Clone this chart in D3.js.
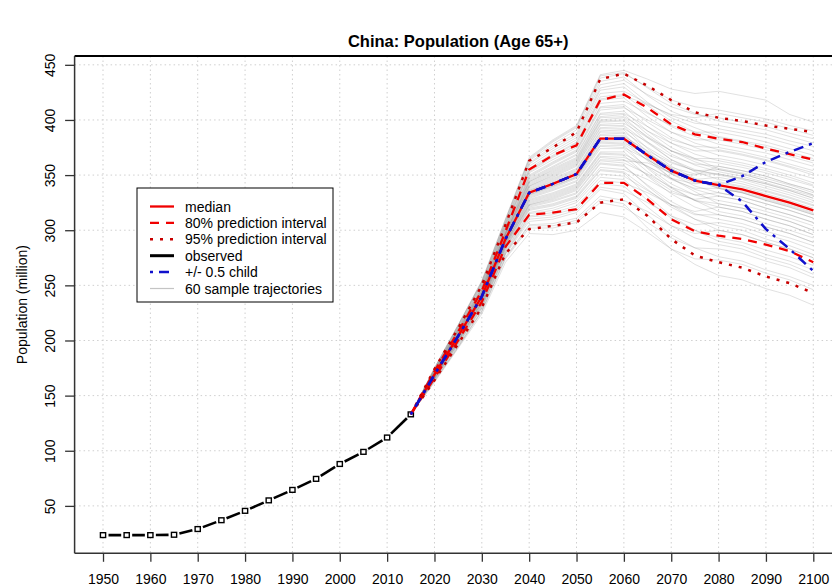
<!DOCTYPE html>
<html>
<head>
<meta charset="utf-8">
<script src="https://cdn.jsdelivr.net/npm/d3@7"></script>
<style>
  body { margin: 0; background: #fff; }
  svg { display: block; }
  text { font-family: "Liberation Sans", Arial, Helvetica, sans-serif; fill: #000; }
</style>
</head>
<body>
<svg id="chart" width="832" height="588"></svg>
<script>
// ---- observed estimates (million) ----
const obsYears = [1950, 1955, 1960, 1965, 1970, 1975, 1980, 1985, 1990, 1995, 2000, 2005, 2010, 2015];
const observed = [23.5, 23.5, 23.5, 23.8, 29, 37, 45.5, 55, 64.5, 74.5, 88, 99, 112, 133];

// ---- projections, 2015-2100 ----
const projYears = [2015, 2020, 2025, 2030, 2035, 2040, 2045, 2050, 2055, 2060, 2065, 2070, 2075, 2080, 2085, 2090, 2095, 2100];
const median  = [133, 169, 204, 240, 292, 334, 342, 351, 383, 383, 368, 354, 345, 341, 337, 331, 325, 318];
const pi80Up  = [133, 172, 208, 245, 299, 355, 368, 377, 418, 423, 411, 396, 387, 383, 380, 374, 369, 364];
const pi80Low = [133, 166, 200, 235, 285, 314, 316, 319, 343, 343, 328, 310, 299, 295, 292, 287, 281, 271];
const pi95Up  = [133, 174, 211, 250, 305, 363, 375, 389, 437, 442, 431, 418, 407, 402, 399, 395, 392, 389];
const pi95Low = [133, 164, 197, 230, 279, 301, 304, 307, 325, 328, 313, 292, 277, 271, 266, 258, 252, 243];
const childUp  = [133, 169, 204, 240, 292, 334, 342, 351, 383, 383, 368, 354, 345, 341, 349, 362, 371, 379];
const childLow = [133, 169, 204, 240, 292, 334, 342, 351, 383, 383, 368, 354, 345, 341, 326, 301, 283, 263];

// ---- 60 sample trajectories ----
const trajectories = [
  [133,162,193,224,271,297,296,300,316,312,298,283,274,273,269,261,255,246],
  [133,163,194,226,274,302,302,307,325,321,307,293,284,283,279,272,266,257],
  [133,164,195,227,276,305,306,311,331,327,317,304,297,300,296,289,283,275],
  [133,164,196,229,278,308,310,316,337,333,314,296,284,276,272,264,258,250],
  [133,165,197,230,279,310,312,318,339,336,325,313,305,307,303,296,290,282],
  [133,165,197,230,279,312,314,320,342,340,321,304,293,287,283,275,269,260],
  [133,165,198,231,280,313,316,322,345,343,334,323,317,321,317,310,304,296],
  [133,165,198,232,281,315,318,325,348,346,327,311,300,293,289,282,276,268],
  [133,166,199,232,282,316,320,327,351,349,336,323,314,314,310,303,297,289],
  [133,166,199,233,283,318,322,329,354,352,331,313,300,290,286,278,272,264],
  [133,166,200,234,284,320,324,331,357,355,346,334,328,331,327,320,314,307],
  [133,166,200,234,284,319,323,330,355,353,337,321,310,304,300,292,286,278],
  [133,167,200,234,285,321,326,333,360,358,341,326,315,310,306,299,293,286],
  [133,167,200,235,286,323,328,336,363,361,351,339,332,334,330,324,318,311],
  [133,167,200,235,286,322,327,334,361,359,340,323,310,300,296,289,283,275],
  [133,167,201,236,287,324,330,338,366,364,350,336,327,324,320,314,308,300],
  [133,168,202,237,288,326,332,340,369,368,349,333,321,314,310,303,297,289],
  [133,168,202,237,288,325,331,339,367,366,358,347,342,344,340,335,329,322],
  [133,168,202,237,288,328,334,342,371,371,353,338,327,321,317,310,304,296],
  [133,168,202,237,288,327,333,341,370,369,358,346,338,338,334,327,321,314],
  [133,168,203,238,289,329,336,344,374,374,357,342,332,327,323,317,311,304],
  [133,168,203,238,289,330,337,345,376,375,364,352,346,348,344,338,332,325],
  [133,168,203,239,290,331,338,347,377,377,356,339,327,317,313,306,300,293],
  [133,168,203,239,290,332,339,348,379,378,364,351,343,343,339,333,327,320],
  [133,169,204,239,291,333,340,349,381,381,363,347,337,331,327,320,314,307],
  [133,169,204,239,291,332,340,348,380,379,369,357,351,351,347,342,336,329],
  [133,169,204,240,292,334,342,351,383,383,366,351,340,334,330,324,318,311],
  [133,169,204,240,292,335,343,352,384,385,372,361,354,355,351,345,339,332],
  [133,169,205,241,293,336,344,353,386,386,370,356,346,338,334,328,322,315],
  [133,169,205,241,293,336,345,354,387,388,365,347,335,324,320,314,308,300],
  [133,170,205,241,294,337,346,355,389,389,375,362,354,351,347,342,336,329],
  [133,170,205,241,294,338,347,356,390,391,371,356,345,338,334,327,321,314],
  [133,170,206,242,295,339,348,358,392,392,380,367,360,358,354,349,342,336],
  [133,170,206,242,295,340,349,359,393,394,374,358,347,339,335,329,323,316],
  [133,170,206,243,296,340,350,360,395,395,379,364,355,350,346,340,334,327],
  [133,170,206,243,296,341,351,361,396,397,384,372,365,365,361,356,350,343],
  [133,171,207,244,297,342,352,362,398,399,380,364,353,346,342,336,330,323],
  [133,171,207,244,297,343,353,363,399,400,385,372,364,361,357,352,346,340],
  [133,171,207,244,297,344,354,364,400,402,384,369,359,353,349,343,337,331],
  [133,171,207,244,297,344,355,365,402,403,390,379,372,372,368,363,357,350],
  [133,171,208,245,298,345,356,366,403,405,387,372,362,355,351,345,339,332],
  [133,171,208,245,298,346,357,368,405,406,394,382,376,375,371,366,360,354],
  [133,171,208,246,299,347,358,369,406,408,390,375,365,356,352,347,341,334],
  [133,172,209,246,300,348,360,371,409,411,400,389,382,382,378,373,367,361],
  [133,172,209,246,300,349,361,372,411,412,394,379,369,363,359,354,348,341],
  [133,172,209,247,301,350,362,373,412,414,398,384,375,368,364,359,353,347],
  [133,172,210,248,302,352,364,375,415,417,406,395,389,389,385,380,374,368],
  [133,173,210,248,303,353,366,377,418,420,403,389,379,373,369,364,358,352],
  [133,173,211,249,304,355,368,380,421,423,407,394,385,378,374,370,364,358],
  [133,173,211,250,305,356,370,382,424,426,415,404,397,395,391,387,381,376],
  [133,173,212,251,306,358,372,384,427,430,413,399,389,384,380,375,369,363],
  [133,174,212,251,306,360,374,386,429,433,416,402,393,385,381,377,371,365],
  [133,174,213,252,307,361,376,388,432,436,423,412,405,402,398,394,388,383],
  [133,174,213,253,308,363,378,391,435,439,422,408,399,392,388,384,378,372],
  [133,175,214,253,309,364,380,393,438,442,430,418,412,409,405,401,395,390],
  [133,175,214,254,310,365,381,394,440,443,429,415,406,399,395,391,385,379],
  [133,175,214,254,310,366,382,395,441,445,437,428,424,426,422,418,405,398],
  [133,163,194,227,275,304,304,309,328,324,302,283,269,259,255,247,241,232],
  [133,173,210,248,303,354,367,379,419,422,414,405,402,406,402,398,392,386],
  [133,167,201,236,287,323,329,337,364,363,361,352,350,358,354,349,342,336]
];

// ---- axes and labels ----
const xTicks = [1950, 1960, 1970, 1980, 1990, 2000, 2010, 2020, 2030, 2040, 2050, 2060, 2070, 2080, 2090, 2100];
const yTicks = [50, 100, 150, 200, 250, 300, 350, 400, 450];
const xLimits = [1944, 2106];
const yLimits = [7, 458];
const titleText = "China: Population (Age 65+)";
const yTitle = "Population (million)";
const legendItems = [
  { label: "median", color: "#f00000", dash: null, width: 2.3 },
  { label: "80% prediction interval", color: "#f00000", dash: "9,7", width: 2.3 },
  { label: "95% prediction interval", color: "#c80000", dash: "3,7", width: 2.5 },
  { label: "observed", color: "#000000", dash: null, width: 3 },
  { label: "+/- 0.5 child", color: "#1010cc", dash: "3,6,10,6", width: 2.5 },
  { label: "60 sample trajectories", color: "#c4c4c4", dash: null, width: 1.2 }
];

const svg = d3.select("#chart");

// plot region
const box = { left: 74.6, right: 841.7, top: 56, bottom: 553.3 };
const x = d3.scaleLinear().domain(xLimits).range([box.left, box.right]);
const y = d3.scaleLinear().domain(yLimits).range([box.bottom, box.top]);

svg.append("defs").append("clipPath").attr("id", "plotClip")
  .append("rect")
  .attr("x", box.left).attr("y", box.top)
  .attr("width", box.right - box.left).attr("height", box.bottom - box.top);

// title, centred over the whole plot region
svg.append("text")
  .attr("x", (box.left + box.right) / 2)
  .attr("y", 47)
  .attr("text-anchor", "middle")
  .attr("font-size", "16.5px")
  .attr("font-weight", "bold")
  .text(titleText);

// grid
const grid = svg.append("g").attr("clip-path", "url(#plotClip)")
  .attr("stroke", "#cfcfcf").attr("stroke-width", 1).attr("stroke-dasharray", "1.5,3");
grid.selectAll("line.v").data(xTicks).join("line")
  .attr("x1", d => x(d)).attr("x2", d => x(d))
  .attr("y1", box.top).attr("y2", box.bottom);
grid.selectAll("line.h").data(yTicks).join("line")
  .attr("x1", box.left).attr("x2", box.right)
  .attr("y1", d => y(d)).attr("y2", d => y(d));

const plot = svg.append("g").attr("clip-path", "url(#plotClip)");

const projLine = d3.line()
  .x((d, i) => x(projYears[i]))
  .y(d => y(d));

// sample trajectories
plot.append("g")
  .attr("fill", "none")
  .attr("stroke", "#8c8c8c")
  .attr("stroke-opacity", 0.26)
  .attr("stroke-width", 1)
  .selectAll("path").data(trajectories).join("path")
  .attr("d", projLine);

// observed: points joined by line pieces that stop short of each point
const obsPts = obsYears.map((yr, i) => [x(yr), y(observed[i])]);
const gap = 5.5;
const segs = [];
for (let i = 0; i < obsPts.length - 1; i++) {
  const [x0, y0] = obsPts[i], [x1, y1] = obsPts[i + 1];
  const len = Math.hypot(x1 - x0, y1 - y0);
  if (len > 2 * gap) {
    const ux = (x1 - x0) / len, uy = (y1 - y0) / len;
    segs.push([x0 + ux * gap, y0 + uy * gap, x1 - ux * gap, y1 - uy * gap]);
  }
}
plot.append("g").attr("stroke", "#000").attr("stroke-width", 2.6)
  .selectAll("line").data(segs).join("line")
  .attr("x1", d => d[0]).attr("y1", d => d[1])
  .attr("x2", d => d[2]).attr("y2", d => d[3]);
plot.append("g").attr("fill", "#fff").attr("stroke", "#000").attr("stroke-width", 1.4)
  .selectAll("rect").data(obsPts).join("rect")
  .attr("x", d => d[0] - 2.6).attr("y", d => d[1] - 2.4)
  .attr("width", 5.2).attr("height", 4.8);

// median and prediction intervals
function drawSeries(values, color, dash, width) {
  plot.append("path")
    .datum(values)
    .attr("fill", "none")
    .attr("stroke", color)
    .attr("stroke-width", width)
    .attr("stroke-dasharray", dash)
    .attr("d", projLine);
}
drawSeries(median, "#f00000", null, 2.3);
drawSeries(pi80Up, "#f00000", "9,7", 2.3);
drawSeries(pi80Low, "#f00000", "9,7", 2.3);
drawSeries(pi95Up, "#c80000", "3,7", 2.5);
drawSeries(pi95Low, "#c80000", "3,7", 2.5);
drawSeries(childUp, "#1010cc", "3,6,10,6", 2.5);
drawSeries(childLow, "#1010cc", "3,6,10,6", 2.5);

// frame
svg.append("line").attr("x1", box.left).attr("x2", box.right).attr("y1", box.top).attr("y2", box.top)
  .attr("stroke", "#000").attr("stroke-width", 2.2);
svg.append("line").attr("x1", box.left).attr("x2", box.right).attr("y1", box.bottom).attr("y2", box.bottom)
  .attr("stroke", "#333").attr("stroke-width", 1.5);
svg.append("line").attr("x1", box.left).attr("x2", box.left).attr("y1", box.top).attr("y2", box.bottom)
  .attr("stroke", "#333").attr("stroke-width", 1.5);

// x axis
const xAxis = svg.append("g")
  .attr("transform", `translate(0,${box.bottom})`)
  .call(d3.axisBottom(x).tickValues(xTicks).tickFormat(d3.format("d")).tickSize(8.5).tickPadding(12));
xAxis.select(".domain").remove();
xAxis.selectAll(".tick line").attr("stroke", "#333").attr("stroke-width", 1.3);
xAxis.selectAll(".tick text").attr("font-size", "14px").attr("fill", "#111")
  .attr("font-family", "'Liberation Sans', Arial, sans-serif");

// y axis, labels parallel to the axis
const yAxis = svg.append("g")
  .attr("transform", `translate(${box.left},0)`)
  .call(d3.axisLeft(y).tickValues(yTicks).tickSize(9.5));
yAxis.select(".domain").remove();
yAxis.selectAll(".tick line").attr("stroke", "#333").attr("stroke-width", 1.3);
yAxis.selectAll(".tick text")
  .attr("x", null).attr("dy", null)
  .attr("text-anchor", "middle")
  .attr("transform", "translate(-20,0) rotate(-90)")
  .attr("font-size", "14px").attr("fill", "#111")
  .attr("font-family", "'Liberation Sans', Arial, sans-serif");

svg.append("text")
  .attr("transform", `translate(27,${(box.top + box.bottom) / 2}) rotate(-90)`)
  .attr("text-anchor", "middle")
  .attr("font-size", "14px")
  .attr("fill", "#111")
  .text(yTitle);

// legend
const lg = svg.append("g").attr("transform", "translate(137,188)");
lg.append("rect").attr("width", 196).attr("height", 114)
  .attr("fill", "#fff").attr("stroke", "#000").attr("stroke-width", 1);
const rows = lg.selectAll("g.row").data(legendItems).join("g")
  .attr("transform", (d, i) => `translate(0,${18.5 + i * 16.4})`);
rows.append("line")
  .attr("x1", 13).attr("x2", 37).attr("y1", 0).attr("y2", 0)
  .attr("stroke", d => d.color)
  .attr("stroke-width", d => d.width)
  .attr("stroke-dasharray", d => d.dash);
rows.append("text")
  .attr("x", 48).attr("y", 5)
  .attr("font-size", "14px")
  .attr("fill", "#111")
  .text(d => d.label);
</script>
</body>
</html>
